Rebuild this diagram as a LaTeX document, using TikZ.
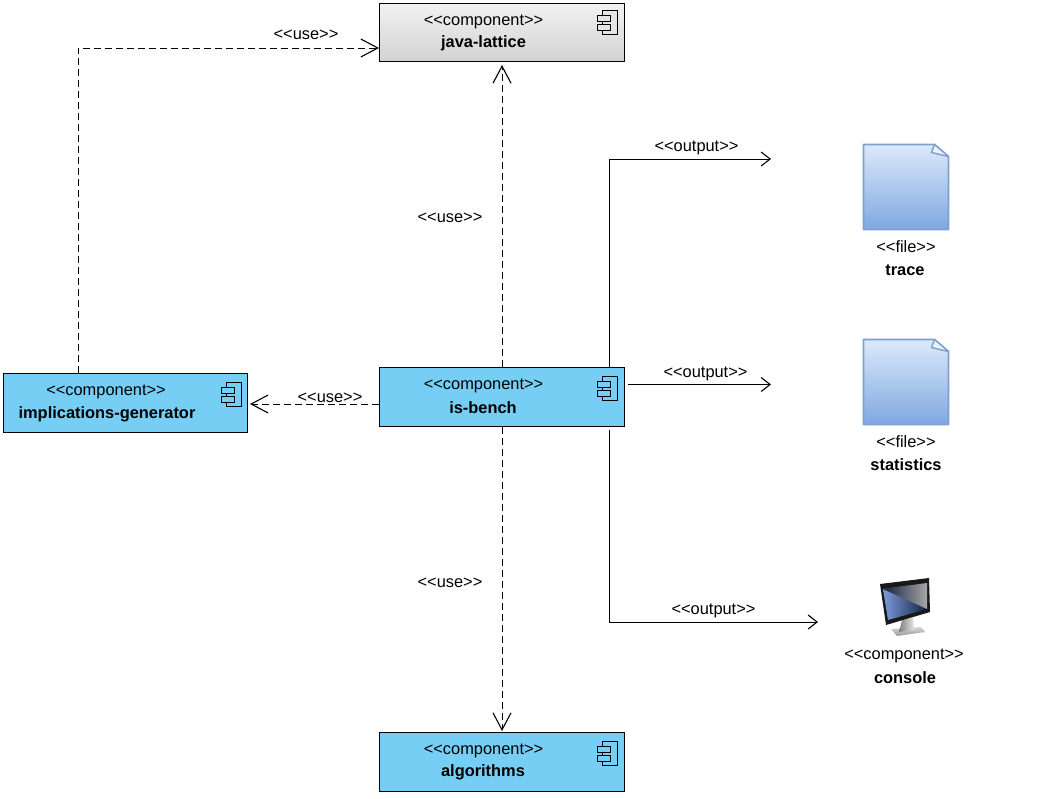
\documentclass[tikz,border=0pt]{standalone}
\usepackage{fontspec}
\setmainfont{Liberation Sans}
\usetikzlibrary{arrows.meta,calc,shadings}
\definecolor{compblue}{HTML}{77CEF5}
\definecolor{fileedge}{HTML}{7F9FCF}
\definecolor{filetop}{HTML}{DCE9FA}
\definecolor{filebot}{HTML}{7FA8E0}
\definecolor{lattop}{HTML}{F2F2F2}
\definecolor{latbot}{HTML}{D2D2D2}
\definecolor{scrlight}{HTML}{7C9BDC}
\definecolor{scrdark}{HTML}{12203F}
\tikzset{
  comp/.style={draw=black,line width=1.25pt,fill=compblue,minimum width=244.5pt,minimum height=58.5pt,inner sep=0pt,anchor=north west},
  stereo/.style={font=\fontsize{16.4}{18}\selectfont,inner sep=0pt,text=black,anchor=center},
  cname/.style={font=\fontsize{16.4}{18}\selectfont\bfseries,inner sep=0pt,text=black,anchor=center},
  lab/.style={font=\fontsize{16.4}{18}\selectfont,inner sep=0pt,text=black,anchor=center},
  usedep/.style={draw=black,line width=.95pt,dash pattern=on 7pt off 4pt,-{Straight Barb[length=17pt,width=18pt,line width=1.1pt]}},
  outflow/.style={draw=black,line width=.95pt,-{Straight Barb[length=9pt,width=14pt,line width=1.1pt]}},
  filesheet/.style={draw=fileedge,line width=1.6pt,top color=filetop,bottom color=filebot,line join=round},
}
\newcommand{\compicon}[3]{%
  \draw[black,line width=1pt,fill=#3] (#1-9,#2-12) rectangle (#1+6,#2+12);
  \draw[black,line width=1pt,fill=#3] (#1-14,#2-7) rectangle (#1-1,#2-1);
  \draw[black,line width=1pt,fill=#3] (#1-14,#2+2) rectangle (#1-1,#2+8);
}
\newcommand{\filesheetat}[2]{%
  \path[filesheet] (#1,#2) -- (#1+71,#2) -- (#1+85,#2+12) -- (#1+85,#2+85) -- (#1,#2+85) -- cycle;
  \draw[fileedge,line width=1.4pt,fill=filetop!60!white,line join=round] (#1+71,#2) -- (#1+85,#2+12) -- (#1+68,#2+8) -- cycle;
}
\begin{document}
\begin{tikzpicture}[x=1pt,y=-1pt]
\useasboundingbox (0,0) rectangle (1049,798);
% component boxes
\node[comp,top color=lattop,bottom color=latbot,minimum height=58pt] (jl) at (379,3) {};
\node[comp] (isb) at (379,367.2) {};
\node[comp,minimum width=244pt] (ig) at (3,373.2) {};
\node[comp] (alg) at (379,732.2) {};
% component icons
\compicon{611}{22}{black!10}
\compicon{611}{388}{compblue}
\compicon{235}{394}{compblue}
\compicon{611}{753}{compblue}
% box labels
\node[stereo] (jls) at (483.5,22) {<{}<component>{}>};
\node[cname] (jln) at (483.5,43) {java-lattice};
\node[stereo] (isbs) at (483.5,386) {<{}<component>{}>};
\node[cname] (isbn) at (483,408) {is-bench};
\node[stereo] (igs) at (106,392) {<{}<component>{}>};
\node[cname] (ign) at (107,414) {implications-generator};
\node[stereo] (algs) at (483.5,751) {<{}<component>{}>};
\node[cname] (algn) at (483,772) {algorithms};
% files
\filesheetat{863.5}{144.5}
\filesheetat{863.5}{339.5}
\node[lab] (fs1) at (906,247) {<{}<file>{}>};
\node[cname] (fn1) at (905,270) {trace};
\node[lab] (fs2) at (906,442) {<{}<file>{}>};
\node[cname] (fn2) at (906,465) {statistics};
% monitor
\shade[top color=black!15,bottom color=black!40] (891,629) -- (921,627) -- (925,632) -- (897,636) -- cycle;
\shade[left color=black!50,right color=black!10] (902,620) -- (913,618) -- (914,630) -- (899,632) -- cycle;
\fill[black!90] (880,584) -- (929,578) -- (930,612) -- (886,625) -- cycle;
\shade[left color=scrlight,right color=scrdark] (883,589) -- (927,583) -- (927,609) -- (888,620) -- cycle;
\shade[left color=scrdark,right color=black!35] (883,589) -- (927,583) -- (927,609) -- cycle;
\node[stereo] (cs) at (904,656) {<{}<component>{}>};
\node[cname] (cn) at (905,678) {console};
% free ends
\coordinate (o1) at (771,159);
\coordinate (o2) at (771,384.5);
\coordinate (o3) at (818,622);
\coordinate (jlin) at (502,65);
\coordinate (jlleft) at (379,48);
\coordinate (igright) at (250,404);
\coordinate (algin) at (502,731);
% dependencies
\draw[usedep] (ig.north -| 78,0) -- (78,48) -- (jlleft);
\draw[usedep] (isb.north -| jlin) -- (jlin);
\draw[usedep] (isb.south -| algin) -- (algin);
\draw[usedep] (isb.west |- igright) -- (igright);
% outputs
\draw[outflow] (isb.north -| 609.7,0) -- (609.7,159) -- (o1);
\draw[outflow] (628,384.5) -- (o2);
\draw[outflow] (609.7,430) -- (609.7,622) -- (o3);
% labels
\node[lab] (u1) at (306,35) {<{}<use>{}>};
\node[lab] (u2) at (450,218) {<{}<use>{}>};
\node[lab] (u3) at (330,398) {<{}<use>{}>};
\node[lab] (u4) at (450,583) {<{}<use>{}>};
\node[lab] (o1l) at (696.5,148) {<{}<output>{}>};
\node[lab] (o2l) at (705.5,374) {<{}<output>{}>};
\node[lab] (o3l) at (713.5,611) {<{}<output>{}>};
\end{tikzpicture}
\end{document}
